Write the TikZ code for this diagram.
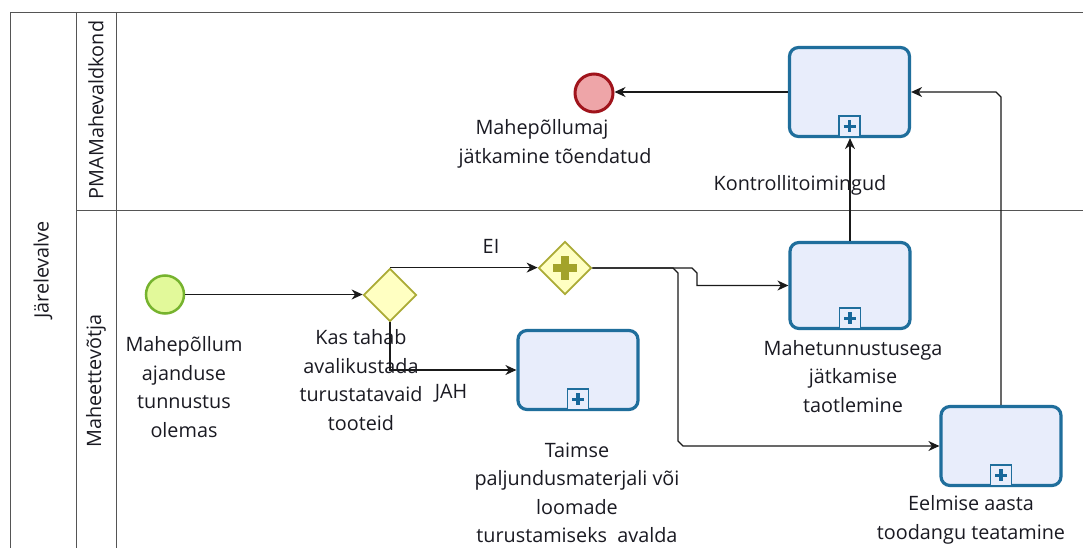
\documentclass[tikz,border=0pt]{standalone}
\usepackage{fontspec}
\setmainfont{Open Sans}
\usetikzlibrary{shapes.geometric,arrows.meta,calc}
\definecolor{taskborder}{HTML}{1F6E9C}
\definecolor{taskfill}{HTML}{E8EDFB}
\definecolor{plusblue}{HTML}{17679A}
\definecolor{gwborder}{HTML}{ABAB36}
\definecolor{gwfill}{HTML}{FFFFC2}
\definecolor{plusol}{HTML}{A3A32A}
\definecolor{startb}{HTML}{76B32E}
\definecolor{startf}{HTML}{E2F99A}
\definecolor{endb}{HTML}{A0141C}
\definecolor{endf}{HTML}{EEA5A8}
\definecolor{poolline}{HTML}{555555}
\definecolor{flowc}{HTML}{1A1A1A}
\definecolor{txt}{HTML}{1A1A22}
\tikzset{
  pool/.style={draw=poolline, line width=0.8pt},
  lbl/.style={text=txt, font=\fontsize{19.8}{28.5}\selectfont, align=center, inner sep=0pt},
  taskbox/.style={draw=taskborder, fill=taskfill, line width=3.2pt, rounded corners=9pt, minimum width=120pt, inner sep=0pt},
  markbox/.style={draw=taskborder, fill=taskfill, line width=1.6pt, minimum width=21pt, minimum height=21pt, inner sep=0pt},
  gw/.style={diamond, aspect=1, draw=gwborder, fill=gwfill, line width=1.8pt, minimum width=53pt, minimum height=53pt, inner sep=0pt},
  startev/.style={circle, draw=startb, fill=startf, line width=2.5pt, minimum size=38pt, inner sep=0pt},
  endev/.style={circle, draw=endb, fill=endf, line width=3pt, minimum size=38pt, inner sep=0pt},
  flow/.style={draw=flowc, line width=1.2pt, -{Stealth[length=11pt,width=10pt,inset=3.5pt]}}
}
\newcommand\submarker[1]{%
  \node[markbox, anchor=south] (#1m) at ($(#1.south)+(0,-0.5)$) {};
  \draw[plusblue, line width=3.5pt] ($(#1m.center)+(-6,0)$) -- ($(#1m.center)+(6,0)$);
  \draw[plusblue, line width=3.5pt] ($(#1m.center)+(0,-6)$) -- ($(#1m.center)+(0,6)$);
}
\begin{document}
\begin{tikzpicture}[x=1pt,y=-1pt]
\useasboundingbox (0,0) rectangle (1083,548);
\fill[white] (0,0) rectangle (1083,548);
% pool and lanes
\draw[pool] (1083,12) -- (10,12) -- (10,548);
\draw[pool] (76,12) -- (76,548);
\draw[pool] (116,12) -- (116,548);
\draw[pool] (76,210) -- (1083,210);
\node[lbl, rotate=90] (pool) at (43,270) {Järelevalve};
\node[lbl, rotate=90] (lane1) at (96,110) {PMAMahevaldkond};
\node[lbl, rotate=90] (lane2) at (96,381) {Maheettevõtja};
% elements
\node[startev] (start) at (165,294.5) {};
\node[gw] (g1) at (390,295) {};
\node[gw] (g2) at (565,268) {};
\fill[plusol] ($(g2)+(-12,-4)$) rectangle ($(g2)+(12,4)$);
\fill[plusol] ($(g2)+(-4,-12)$) rectangle ($(g2)+(4,12)$);
\node[taskbox, minimum height=79pt] (taimse) at (578,370) {};
\node[taskbox, minimum height=86pt] (mahe) at (850,285.5) {};
\node[taskbox, minimum height=89pt] (kontroll) at (849.5,92) {};
\node[taskbox, minimum height=79pt] (eelmise) at (1001,446) {};
\submarker{taimse}
\submarker{mahe}
\submarker{kontroll}
\submarker{eelmise}
\node[endev] (end) at (594,93) {};
% bend points
\coordinate (c1) at (692,268);
\coordinate (c2) at (697,273);
\coordinate (c3) at (673,268);
\coordinate (c4) at (678,273);
\coordinate (c5) at (678,441);
\coordinate (c6) at (683,446);
\coordinate (c7) at (1001,97);
\coordinate (c8) at (996,92);
% flows
\draw[flow] (start.east) -- (start.east -| g1.west);
\draw[flow] (g1.north) -- (g1.north -| g2.west);
\draw[flow] (g1.south) |- (taimse.west);
\draw[flow] (g2.east) -- (c1) -- (c2) -- (c2 |- mahe.west) -- (mahe.west);
\draw[flow] (g2.east) -- (c3) -- (c4) -- (c5) -- (c6) -- (eelmise.west);
\draw[flow] (mahe.north) -- (mahe.north |- kontroll.south);
\draw[flow] (kontroll.west) -- (kontroll.west -| end.east);
\draw[flow] (eelmise.north) -- (c7) -- (c8) -- (kontroll.east);
% labels
\node[lbl] (ei) at (491,246) {EI};
\node[lbl] (jah) at (451,393) {JAH};
\node[lbl] (ls) at (184,387) {Mahepõllum\\ajanduse\\tunnustus\\olemas};
\node[lbl] (lg1) at (361,380) {Kas tahab\\avalikustada\\turustatavaid\\tooteid};
\node[lbl] (lt) at (577,493) {Taimse\\paljundusmaterjali või\\loomade\\turustamiseks\ \ avalda};
\node[lbl] (lm) at (853,376.5) {Mahetunnustusega\\jätkamise\\taotlemine};
\node[lbl] (lk) at (800,185) {Kontrollitoimingud};
\node[lbl] (le) at (971,520) {Eelmise aasta\\toodangu teatamine};
\node[lbl] (len) at (555,144) {Mahepõllumaj\hspace*{26pt}\\jätkamine tõendatud};
\end{tikzpicture}
\end{document}
